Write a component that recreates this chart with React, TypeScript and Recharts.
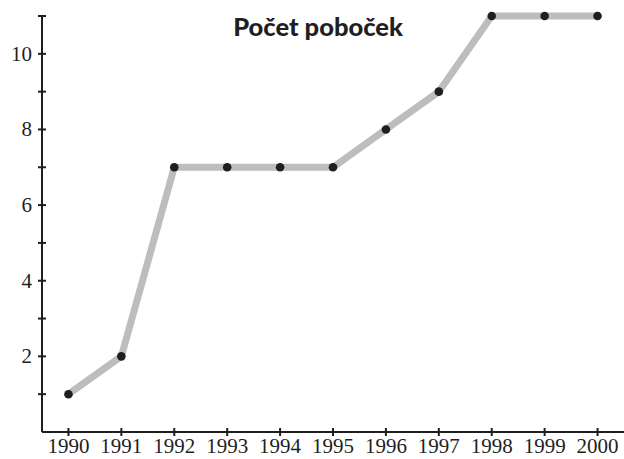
import { LineChart, Line, XAxis, YAxis } from 'recharts'

const years = [1990, 1991, 1992, 1993, 1994, 1995, 1996, 1997, 1998, 1999, 2000]
const branches = [1, 2, 7, 7, 7, 7, 8, 9, 11, 11, 11]
const yTicks = [1, 2, 3, 4, 5, 6, 7, 8, 9, 10, 11]
const yLabels = [2, 4, 6, 8, 10]

const data = years.map((year, i) => ({ year, branches: branches[i] }))

const FONT = '"Liberation Serif", serif'
const INK = '#1f1f1f'

function YTick({ x, y, payload }: { x?: number; y?: number; payload?: { value: number } }) {
  const v = payload?.value ?? 0
  return (
    <g>
      <line x1={(x ?? 0) - 4} x2={(x ?? 0) + 4} y1={y} y2={y} stroke={INK} strokeWidth={2} />
      {yLabels.includes(v) && (
        <text x={(x ?? 0) - 10} y={(y ?? 0) + 7} textAnchor="end" fontFamily={FONT} fontSize={21} fill={INK}>
          {v}
        </text>
      )}
    </g>
  )
}

function XTick({ x, y, payload }: { x?: number; y?: number; payload?: { value: number } }) {
  return (
    <g>
      <line x1={x} x2={x} y1={(y ?? 0) - 4} y2={(y ?? 0) + 4} stroke={INK} strokeWidth={2} />
      <text x={x} y={(y ?? 0) + 21} textAnchor="middle" fontFamily={FONT} fontSize={21} fill={INK}>
        {payload?.value}
      </text>
    </g>
  )
}

export default function App() {
  return (
    <div style={{ position: 'absolute', left: 0, top: 0, width: 624, height: 459, background: '#fff' }}>
      <div
        style={{
          position: 'absolute',
          left: 0,
          width: 636,
          top: 12,
          textAlign: 'center',
          fontFamily: 'Lato, sans-serif',
          fontWeight: 900,
          fontSize: 25.5,
          lineHeight: '28px',
          color: INK,
        }}
      >
        Počet poboček
      </div>
      <LineChart width={624} height={459} data={data} margin={{ top: 16, right: 0, bottom: 0, left: 0 }}>
        <XAxis
          dataKey="year"
          type="number"
          domain={[1989.5, 2000.5]}
          ticks={years}
          height={27}
          tickSize={0}
          tickMargin={0}
          tick={<XTick />}
          axisLine={{ stroke: INK, strokeWidth: 2 }}
          tickLine={false}
        />
        <YAxis
          type="number"
          domain={[0, 11]}
          ticks={yTicks}
          interval={0}
          width={42}
          tickSize={0}
          tickMargin={0}
          tick={<YTick />}
          axisLine={{ stroke: INK, strokeWidth: 2 }}
          tickLine={false}
        />
        <Line
          dataKey="branches"
          stroke="#bdbdbd"
          strokeWidth={7}
          dot={{ r: 4.3, fill: INK, stroke: 'none' }}
          isAnimationActive={false}
        />
      </LineChart>
    </div>
  )
}
